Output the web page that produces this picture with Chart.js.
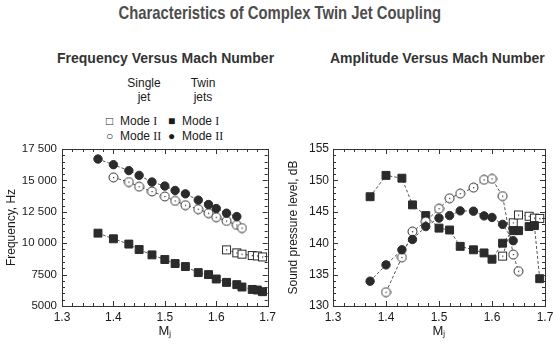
<!DOCTYPE html>
<html>
<head>
<meta charset="utf-8">
<script src="https://cdn.jsdelivr.net/npm/chart.js@4"></script>
<style>
  body { margin: 0; background: #fff; }
  #wrap { position: relative; width: 560px; height: 346px; background: #fff; overflow: hidden;
          font-family: "Liberation Sans", Arial, sans-serif; color: #333; }
  .abs { position: absolute; white-space: nowrap; }
  .title { left: 0; width: 560px; top: 2px; text-align: center; }
  .title span { display: inline-block; font-size: 19px; font-weight: bold; color: #4d4d4d;
                transform: scaleX(0.78); transform-origin: center; }
  .sub { top: 50px; font-size: 14px; font-weight: bold; color: #333; }
  .lg { font-size: 12px; color: #1a1a1a; text-align: center; line-height: 14px; }
  .row { font-size: 12px; color: #1a1a1a; }
  .sym { display: inline-block; width: 14px; }
  .rn { font-family: "Liberation Serif", serif; font-size: 12px; }
  canvas { position: absolute; top: 0; }
</style>
</head>
<body>
<div id="wrap">
  <div class="abs title"><span>Characteristics of Complex Twin Jet Coupling</span></div>
  <div class="abs sub" style="left:57px">Frequency Versus Mach Number</div>
  <div class="abs sub" style="left:330px">Amplitude Versus Mach Number</div>

  <div class="abs lg" style="left:119px;top:76px;width:50px">Single<br>jet</div>
  <div class="abs lg" style="left:178px;top:76px;width:50px">Twin<br>jets</div>
  <div class="abs row" style="left:106px;top:114px"><span class="sym">&#9633;</span>Mode <span class="rn">I</span></div>
  <div class="abs row" style="left:106px;top:129px"><span class="sym">&#9675;</span>Mode <span class="rn">II</span></div>
  <div class="abs row" style="left:168px;top:114px"><span class="sym">&#9632;</span>Mode <span class="rn">I</span></div>
  <div class="abs row" style="left:168px;top:129px"><span class="sym">&#9679;</span>Mode <span class="rn">II</span></div>

  <canvas id="freqChart" width="280" height="346" style="left:0"></canvas>
  <canvas id="ampChart" width="280" height="346" style="left:280px"></canvas>
</div>
<script>
// Mach numbers of the measured points
const mjTwinModeI = [1.37, 1.40, 1.43, 1.45, 1.475, 1.50, 1.52, 1.54, 1.565, 1.585, 1.60, 1.62, 1.64, 1.65, 1.67, 1.68, 1.69];
const mjTwinModeII = [1.37, 1.40, 1.43, 1.45, 1.475, 1.50, 1.52, 1.54, 1.565, 1.585, 1.60, 1.62, 1.64];
const mjSingleModeII = [1.40, 1.43, 1.45, 1.475, 1.50, 1.52, 1.54, 1.565, 1.585, 1.60, 1.62, 1.64, 1.65];
const mjSingleModeI = [1.62, 1.64, 1.65, 1.67, 1.68, 1.69];

// frequency, Hz
const freqTwinModeI = [10800, 10350, 9930, 9500, 9070, 8700, 8380, 8140, 7660, 7500, 7150, 6880, 6700, 6510, 6320, 6270, 6140];
const freqTwinModeII = [16700, 16250, 15780, 15400, 14870, 14550, 14200, 13930, 13430, 13080, 12760, 12390, 12120];
const freqSingleModeII = [15240, 14870, 14500, 14120, 13720, 13370, 13030, 12710, 12390, 12070, 11770, 11450, 11210];
const freqSingleModeI = [9470, 9230, 9130, 9020, 8990, 8910];

// sound pressure level, dB
const splTwinModeI = [147.4, 150.8, 150.35, 146.1, 144.4, 142.4, 142.1, 139.5, 138.95, 138.45, 137.45, 140.0, 142.0, 142.0, 142.65, 142.8, 134.35];
const splTwinModeII = [133.95, 136.55, 138.95, 140.6, 142.65, 144.0, 144.4, 145.15, 145.1, 144.35, 144.1, 143.0, 140.4];
const splSingleModeII = [132.2, 137.75, 141.85, 143.45, 145.5, 147.15, 147.9, 148.85, 150.1, 150.25, 147.5, 138.2, 135.55];
const splSingleModeI = [137.95, 143.25, 144.5, 144.3, 144.0, 143.95];

const xTicks = [1.3, 1.4, 1.5, 1.6, 1.7];
const freqTicks = [5000, 7500, 10000, 12500, 15000, 17500];
const splTicks = [130, 135, 140, 145, 150, 155];

const ink = "#2b2b2b";
const font = "'Liberation Sans', Arial, sans-serif";

function toPoints(xs, ys) {
  return xs.map((x, i) => ({ x: x, y: ys[i] }));
}

// open markers have a little dot in the middle
function openMarker(shape) {
  const c = document.createElement("canvas");
  c.width = 11;
  c.height = 11;
  const g = c.getContext("2d");
  g.fillStyle = "#fff";
  g.strokeStyle = ink;
  g.lineWidth = 1;
  if (shape === "circle") {
    g.beginPath();
    g.arc(5.5, 5.5, 4.5, 0, Math.PI * 2);
    g.fill();
    g.stroke();
  } else {
    g.fillRect(1.5, 1.5, 8, 8);
    g.strokeRect(1.5, 1.5, 8, 8);
  }
  g.fillStyle = ink;
  g.fillRect(5, 5, 1.2, 1.2);
  return c;
}

const openCircle = openMarker("circle");
const openSquare = openMarker("square");

function series(xs, ys, style) {
  const filled = style === "circle" || style === "rect";
  return {
    data: toPoints(xs, ys),
    borderColor: "#555",
    borderWidth: 1,
    borderDash: [3, 2],
    showLine: true,
    pointStyle: style,
    pointRadius: style === "rect" ? 5.6 : 4.2,
    pointBackgroundColor: filled ? ink : "#fff",
    pointBorderColor: ink,
    pointBorderWidth: 1,
  };
}

// frame around the plot with inward ticks on all four sides
const frameTicks = {
  id: "frameTicks",
  afterDraw(chart, args, opts) {
    const { ctx, chartArea: a } = chart;
    const x = chart.scales.x;
    const y = chart.scales.y;
    ctx.save();
    ctx.strokeStyle = "#333";
    ctx.lineWidth = 1;
    ctx.strokeRect(Math.round(a.left) + 0.5, Math.round(a.top) + 0.5,
      Math.round(a.right - a.left), Math.round(a.bottom - a.top));
    ctx.beginPath();
    const nx = Math.round((x.max - x.min) / opts.xStep);
    for (let i = 0; i <= nx; i++) {
      const px = Math.round(x.getPixelForValue(x.min + i * opts.xStep)) + 0.5;
      const len = i % 5 === 0 ? 5 : 3;
      ctx.moveTo(px, a.bottom); ctx.lineTo(px, a.bottom - len);
      ctx.moveTo(px, a.top); ctx.lineTo(px, a.top + len);
    }
    const ny = Math.round((y.max - y.min) / opts.yStep);
    for (let i = 0; i <= ny; i++) {
      const py = Math.round(y.getPixelForValue(y.min + i * opts.yStep)) + 0.5;
      const len = i % 5 === 0 ? 5 : 3;
      ctx.moveTo(a.left, py); ctx.lineTo(a.left + len, py);
      ctx.moveTo(a.right, py); ctx.lineTo(a.right - len, py);
    }
    ctx.stroke();
    ctx.restore();
  },
};

function makeChart(id, cfg) {
  return new Chart(document.getElementById(id), {
    type: "scatter",
    data: { datasets: cfg.datasets },
    plugins: [frameTicks],
    options: {
      responsive: false,
      animation: false,
      layout: { padding: { top: 149, right: cfg.padRight, left: 0, bottom: 0 } },
      plugins: {
        legend: { display: false },
        tooltip: { enabled: false },
        frameTicks: { xStep: 0.02, yStep: cfg.yMinor },
      },
      scales: {
        x: {
          type: "linear",
          min: 1.3,
          max: 1.7,
          afterBuildTicks: (s) => { s.ticks = xTicks.map((v) => ({ value: v })); },
          afterFit: (s) => { s.height = 40; },
          grid: { display: false, drawTicks: false },
          border: { display: false },
          ticks: {
            padding: 4,
            color: "#1a1a1a",
            font: { family: font, size: 12 },
            callback: (v) => v.toFixed(1),
          },
          title: {
            display: true,
            text: "Mⱼ",
            color: "#1a1a1a",
            padding: { top: 0, bottom: 7 },
            font: { family: font, size: 13 },
          },
        },
        y: {
          type: "linear",
          min: cfg.yTicks[0],
          max: cfg.yTicks[cfg.yTicks.length - 1],
          afterBuildTicks: (s) => { s.ticks = cfg.yTicks.map((v) => ({ value: v })); },
          afterFit: (s) => { s.width = cfg.yWidth; },
          grid: { display: false, drawTicks: false },
          border: { display: false },
          ticks: {
            padding: cfg.tickPad,
            color: "#1a1a1a",
            font: { family: font, size: cfg.tickSize },
            callback: cfg.yFormat,
          },
          title: {
            display: true,
            text: cfg.yTitle,
            color: "#1a1a1a",
            padding: { top: cfg.titlePad, bottom: 0 },
            font: { family: font, size: 12 },
          },
        },
      },
    },
  });
}

makeChart("freqChart", {
  datasets: [
    series(mjTwinModeII, freqTwinModeII, "circle"),
    series(mjSingleModeII, freqSingleModeII, openCircle),
    series(mjTwinModeI, freqTwinModeI, "rect"),
    series(mjSingleModeI, freqSingleModeI, openSquare),
  ],
  yTicks: freqTicks,
  yMinor: 500,
  yWidth: 62,
  padRight: 7,
  tickPad: 5,
  tickSize: 11.5,
  titlePad: 4,
  yTitle: "Frequency, Hz",
  yFormat: (v) => (v >= 10000 ? String(v).replace(/(\d{3})$/, " $1") : String(v)),
});

makeChart("ampChart", {
  datasets: [
    series(mjTwinModeII, splTwinModeII, "circle"),
    series(mjSingleModeII, splSingleModeII, openCircle),
    series(mjTwinModeI, splTwinModeI, "rect"),
    series(mjSingleModeI, splSingleModeI, openSquare),
  ],
  yTicks: splTicks,
  yMinor: 1,
  yWidth: 53,
  padRight: 15,
  tickPad: 4,
  tickSize: 12,
  titlePad: 6,
  yTitle: "Sound pressure level, dB",
  yFormat: (v) => String(v),
});
</script>
</body>
</html>
